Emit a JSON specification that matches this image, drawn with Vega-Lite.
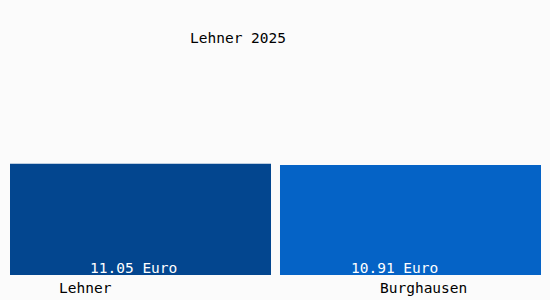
{
  "$schema": "https://vega.github.io/schema/vega-lite/v6.json",
  "width": 550,
  "height": 275,
  "autosize": {"type": "none"},
  "padding": {"left": 0, "top": 0, "right": 0, "bottom": 25},
  "background": "#fbfbfb",
  "config": {"view": {"stroke": null}},
  "title": {
    "text": "Lehner 2025",
    "font": "DejaVu Sans Mono",
    "fontSize": 14.5,
    "fontWeight": "normal",
    "color": "#000000",
    "anchor": "middle",
    "dx": -37,
    "baseline": "alphabetic",
    "offset": -57
  },
  "data": {
    "values": [
      {"name": "Lehner", "value": 11.05, "label": "11.05 Euro"},
      {"name": "Burghausen", "value": 10.91, "label": "10.91 Euro"}
    ]
  },
  "encoding": {
    "x": {
      "field": "name",
      "type": "nominal",
      "sort": null,
      "scale": {"range": [10, 541], "paddingInner": 0.0333, "paddingOuter": 0},
      "axis": null
    }
  },
  "layer": [
    {
      "mark": {"type": "bar"},
      "encoding": {
        "y": {
          "field": "value",
          "type": "quantitative",
          "scale": {"domain": [0, 27.3], "nice": false},
          "axis": null
        },
        "color": {
          "field": "name",
          "type": "nominal",
          "scale": {"domain": ["Lehner", "Burghausen"], "range": ["#03468f", "#0563c6"]},
          "legend": null
        }
      }
    },
    {
      "transform": [{"filter": "datum.name === 'Lehner'"}],
      "mark": {
        "type": "text",
        "align": "left",
        "baseline": "alphabetic",
        "dx": 80,
        "dy": -2,
        "font": "DejaVu Sans Mono",
        "fontSize": 14.5,
        "color": "#ffffff"
      },
      "encoding": {
        "x": {"field": "name", "type": "nominal", "sort": null, "bandPosition": 0},
        "y": {"datum": 0, "type": "quantitative"},
        "text": {"field": "label"}
      }
    },
    {
      "transform": [{"filter": "datum.name === 'Burghausen'"}],
      "mark": {
        "type": "text",
        "align": "left",
        "baseline": "alphabetic",
        "dx": 71,
        "dy": -2,
        "font": "DejaVu Sans Mono",
        "fontSize": 14.5,
        "color": "#ffffff"
      },
      "encoding": {
        "x": {"field": "name", "type": "nominal", "sort": null, "bandPosition": 0},
        "y": {"datum": 0, "type": "quantitative"},
        "text": {"field": "label"}
      }
    },
    {
      "transform": [{"filter": "datum.name === 'Lehner'"}],
      "mark": {
        "type": "text",
        "align": "left",
        "baseline": "alphabetic",
        "dx": 49,
        "dy": 18,
        "font": "DejaVu Sans Mono",
        "fontSize": 14.5,
        "color": "#000000"
      },
      "encoding": {
        "x": {"field": "name", "type": "nominal", "sort": null, "bandPosition": 0},
        "y": {"datum": 0, "type": "quantitative"},
        "text": {"field": "name"}
      }
    },
    {
      "transform": [{"filter": "datum.name === 'Burghausen'"}],
      "mark": {
        "type": "text",
        "align": "left",
        "baseline": "alphabetic",
        "dx": 100,
        "dy": 18,
        "font": "DejaVu Sans Mono",
        "fontSize": 14.5,
        "color": "#000000"
      },
      "encoding": {
        "x": {"field": "name", "type": "nominal", "sort": null, "bandPosition": 0},
        "y": {"datum": 0, "type": "quantitative"},
        "text": {"field": "name"}
      }
    },
    {
      "mark": {"type": "rule", "color": "#aaaaaa", "strokeWidth": 1},
      "encoding": {
        "y": {"datum": 0, "type": "quantitative"}
      }
    }
  ]
}
